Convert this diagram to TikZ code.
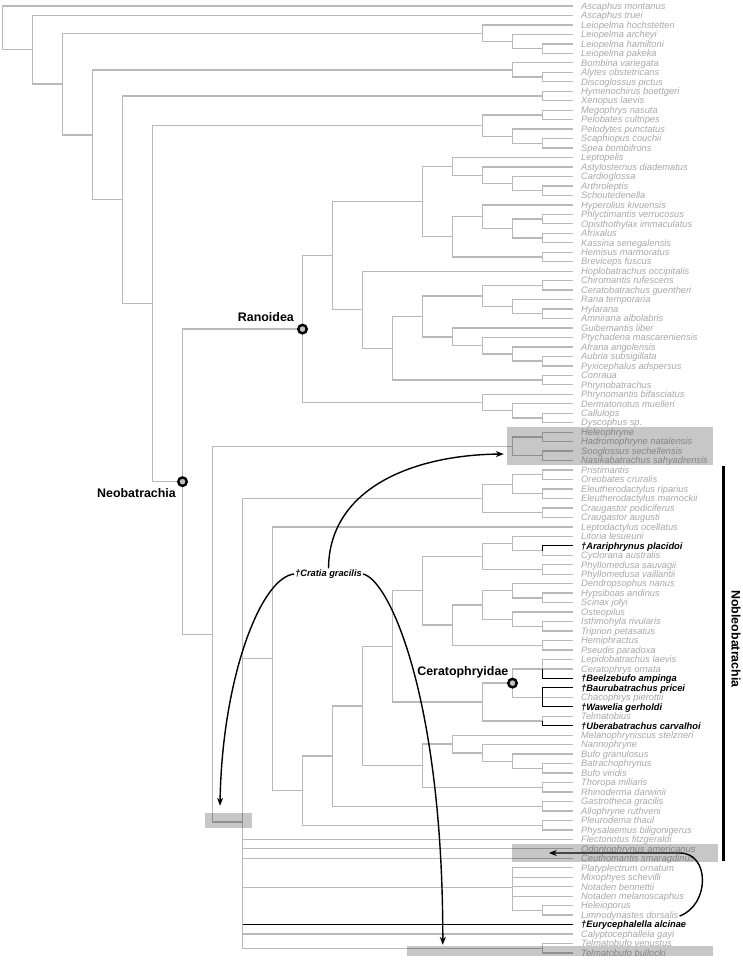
\documentclass[tikz,border=0pt]{standalone}
\usepackage{fontspec}
\setmainfont{Liberation Sans}
\usetikzlibrary{calc,arrows.meta}
\definecolor{treegray}{RGB}{185,185,185}
\definecolor{labgray}{RGB}{168,168,168}
\newcommand\bnode[4]{\path let \p1=($(#3)!.5!(#4)$) in coordinate (#1) at (#2pt,\y1);}
\newcommand\kids[2]{\foreach \k in {#2}{\draw[treeline] (#1) |- (\k);}}
\newcommand\fos[1]{{\color{black}\bfseries †#1}}
\begin{document}
\begin{tikzpicture}[x=1pt,y=-1pt,
 treeline/.style={draw=treegray,line width=1.3pt},
 fossil/.style={draw=black,line width=1.3pt},
 lbl/.style={anchor=base west,inner sep=0pt,text=labgray,font=\fontsize{9.3}{11}\selectfont\itshape},
 clade/.style={inner sep=0pt,font=\fontsize{12.4}{14}\selectfont\bfseries},
 marker/.style={circle,draw=black,line width=2.4pt,fill=gray!50,minimum size=8.5pt,inner sep=0pt},
 sbox/.style={fill=black,fill opacity=0.22,inner sep=0pt,draw=none},
 arr/.style={-{Stealth[length=8pt,width=6pt]},line width=1.4pt,draw=black}]
\useasboundingbox (0,0) rectangle (742,960);
% tips and labels
\foreach \name [count=\i] in {Ascaphus montanus, Ascaphus truei, Leiopelma hochstetteri, Leiopelma archeyi, Leiopelma hamiltoni, Leiopelma pakeka, Bombina variegata, Alytes obstetricans, Discoglossus pictus, Hymenochirus boettgeri, Xenopus laevis, Megophrys nasuta, Pelobates cultripes, Pelodytes punctatus, Scaphiopus couchii, Spea bombifrons, Leptopelis, Astylosternus diadematus, Cardioglossa, Arthroleptis, Schoutedenella, Hyperolius kivuensis, Phlyctimantis verrucosus, Opisthothylax immaculatus, Afrixalus, Kassina senegalensis, Hemisus marmoratus, Breviceps fuscus, Hoplobatrachus occipitalis, Chiromantis rufescens, Ceratobatrachus guentheri, Rana temporaria, Hylarana, Amnirana albolabris, Guibemantis liber, Ptychadena mascareniensis, Afrana angolensis, Aubria subsigillata, Pyxicephalus adspersus, Conraua, Phrynobatrachus, Phrynomantis bifasciatus, Dermatonotus muelleri, Callulops, Dyscophus sp., Heleophryne, Hadromophryne natalensis, Sooglossus sechellensis, Nasikabatrachus sahyadrensis, Pristimantis, Oreobates cruralis, Eleutherodactylus riparius, Eleutherodactylus marnockii, Craugastor podiciferus, Craugastor augusti, Leptodactylus ocellatus, Litoria lesueurii, \fos{Arariphrynus placidoi}, Cyclorana australis, Phyllomedusa sauvagii, Phyllomedusa vaillantii, Dendropsophus nanus, Hypsiboas andinus, Scinax jolyi, Osteopilus, Isthmohyla rivularis, Triprion petasatus, Hemiphractus, Pseudis paradoxa, Lepidobatrachus laevis, Ceratophrys ornata, \fos{Beelzebufo ampinga}, \fos{Baurubatrachus pricei}, Chacophrys pierottii, \fos{Wawelia gerholdi}, Telmatobius, \fos{Uberabatrachus carvalhoi}, Melanophryniscus stelzneri, Nannophryne, Bufo granulosus, Batrachophrynus, Bufo viridis, Thoropa miliaris, Rhinoderma darwinii, Gastrotheca gracilis, Allophryne ruthveni, Pleurodema thaul, Physalaemus biligonigerus, Flectonotus fitzgeraldi, Odontophrynus americanus, Ceuthomantis smaragdinus, Platyplectrum ornatum, Mixophyes schevilli, Notaden bennettii, Notaden melanoscaphus, Heleioporus, Limnodynastes dorsalis, \fos{Eurycephalella alcinae}, Calyptocephallela gayi, Telmatobufo venustus, Telmatobufo bullocki}{
  \coordinate (c\i) at (572.5,{6+(\i-1)*9.47});
  \node[lbl] (t\i) at (581,{9.3+(\i-1)*9.47}) {\name};
}
% internal nodes
\bnode{L3}{542.5}{c5}{c6} \bnode{L2}{512.5}{c4}{L3} \bnode{L1}{482.5}{c3}{L2}
\bnode{B2}{542.5}{c8}{c9} \bnode{B1}{512.5}{c7}{B2}
\bnode{Pi}{542.5}{c10}{c11}
\bnode{Pb1}{542.5}{c12}{c13} \bnode{Pb3}{542.5}{c15}{c16} \bnode{Pb2}{512.5}{c14}{Pb3} \bnode{Pb0}{482.5}{Pb1}{Pb2}
\bnode{Ar4}{542.5}{c20}{c21} \bnode{Ar3}{512.5}{c19}{Ar4} \bnode{Ar2}{482.5}{c18}{Ar3} \bnode{Ar1}{452.5}{c17}{Ar2}
\bnode{Hy3}{542.5}{c23}{c24} \bnode{Hy4}{542.5}{c25}{c26} \bnode{Hy2}{512.5}{Hy3}{Hy4} \bnode{Hy1}{482.5}{c22}{Hy2}
\bnode{Hb}{542.5}{c27}{c28} \bnode{A2}{452.5}{Hy1}{Hb} \bnode{A0}{422.5}{Ar1}{A2}
\bnode{N5}{542.5}{c30}{c31} \bnode{N7}{542.5}{c33}{c34} \bnode{N6}{512.5}{c32}{N7} \bnode{N3}{482.5}{N5}{N6}
\bnode{N10}{542.5}{c38}{c39} \bnode{N9}{512.5}{c37}{N10} \bnode{N8}{482.5}{c36}{N9} \bnode{N4}{452.5}{c35}{N8}
\bnode{N2}{422.5}{N3}{N4} \bnode{N11}{542.5}{c40}{c41} \bnode{N1}{392.5}{N2}{N11} \bnode{N0}{362.5}{c29}{N1}
\bnode{R1}{332.5}{A0}{N0}
\bnode{M2}{542.5}{c44}{c45} \bnode{M1}{512.5}{c43}{M2} \bnode{M0}{482.5}{c42}{M1}
\bnode{Ran}{302.5}{R1}{M0}
\bnode{H1}{542.5}{c46}{c47} \bnode{H2}{542.5}{c48}{c49} \bnode{H0}{512.5}{H1}{H2}
\bnode{T3}{542.5}{c50}{c51} \bnode{T4}{542.5}{c52}{c53} \bnode{T2}{512.5}{T3}{T4} \bnode{T5}{542.5}{c54}{c55} \bnode{T0}{482.5}{T2}{T5}
\bnode{Y3}{542.5}{c58}{c59} \bnode{Y2}{512.5}{c57}{Y3} \bnode{Y4}{542.5}{c60}{c61} \bnode{Y1}{482.5}{Y2}{Y4}
\bnode{Y7}{542.5}{c63}{c64} \bnode{Y6}{512.5}{c62}{Y7} \bnode{Y9}{542.5}{c66}{c67} \bnode{Y8}{512.5}{c65}{Y9}
\bnode{Y5}{482.5}{Y6}{Y8} \bnode{Y10}{542.5}{c68}{c69} \bnode{Y11}{452.5}{Y5}{Y10} \bnode{Y0}{422.5}{Y1}{Y11}
\bnode{C1}{542.5}{c70}{c72} \bnode{C2}{542.5}{c73}{c75} \bnode{C0}{512.5}{C1}{C2} \bnode{C3}{542.5}{c76}{c77} \bnode{Cc}{482.5}{C0}{C3}
\bnode{D13}{392.5}{Y0}{Cc}
\bnode{Bu4}{542.5}{c81}{c82} \bnode{Bu3}{512.5}{c80}{Bu4} \bnode{Bu2}{482.5}{c79}{Bu3} \bnode{Bu1}{452.5}{c78}{Bu2}
\bnode{Tr}{542.5}{c83}{c84} \bnode{Bu0}{422.5}{Bu1}{Tr}
\bnode{D12}{362.5}{D13}{Bu0} \bnode{Ga}{542.5}{c85}{c86} \bnode{D11}{332.5}{D12}{Ga}
\bnode{Pl}{542.5}{c87}{c88} \bnode{D10}{302.5}{D11}{Pl} \bnode{D9}{272.5}{c56}{D10}
\bnode{My1}{542.5}{c96}{c97}
\path let \p1=($0.2*(c92)+0.2*(c93)+0.2*(c94)+0.2*(c95)+0.2*(My1)$) in coordinate (My0) at (512.5pt,\y1);
\bnode{Te}{542.5}{c100}{c101}
\path let \p1=($0.111111*(T0)+0.111111*(D9)+0.111111*(c89)+0.111111*(c90)+0.111111*(c91)+0.111111*(My0)+0.111111*(c98)+0.111111*(c99)+0.111111*(Te)$) in coordinate (P) at (242.5pt,\y1);
\bnode{D7}{212.5}{H0}{P} \bnode{Neo}{182.5}{Ran}{D7}
\bnode{D5}{152.5}{Pb0}{Neo} \bnode{D4}{122.5}{Pi}{D5} \bnode{D3}{92.5}{B1}{D4}
\bnode{D2}{62.5}{L1}{D3} \bnode{D1}{32.5}{c2}{D2} \bnode{R0}{2.5}{c1}{D1}
% edges
\kids{R0}{c1,D1} \kids{D1}{c2,D2} \kids{D2}{L1,D3}
\kids{L1}{c3,L2} \kids{L2}{c4,L3} \kids{L3}{c5,c6}
\kids{D3}{B1,D4} \kids{B1}{c7,B2} \kids{B2}{c8,c9}
\kids{D4}{Pi,D5} \kids{Pi}{c10,c11}
\kids{D5}{Pb0,Neo}
\kids{Pb0}{Pb1,Pb2} \kids{Pb1}{c12,c13} \kids{Pb2}{c14,Pb3} \kids{Pb3}{c15,c16}
\kids{Neo}{Ran,D7} \kids{Ran}{R1,M0} \kids{R1}{A0,N0} \kids{A0}{Ar1,A2}
\kids{Ar1}{c17,Ar2} \kids{Ar2}{c18,Ar3} \kids{Ar3}{c19,Ar4} \kids{Ar4}{c20,c21}
\kids{A2}{Hy1,Hb} \kids{Hy1}{c22,Hy2} \kids{Hy2}{Hy3,Hy4} \kids{Hy3}{c23,c24} \kids{Hy4}{c25,c26} \kids{Hb}{c27,c28}
\kids{N0}{c29,N1} \kids{N1}{N2,N11} \kids{N11}{c40,c41}
\kids{N2}{N3,N4} \kids{N3}{N5,N6} \kids{N5}{c30,c31} \kids{N6}{c32,N7} \kids{N7}{c33,c34}
\kids{N4}{c35,N8} \kids{N8}{c36,N9} \kids{N9}{c37,N10} \kids{N10}{c38,c39}
\kids{M0}{c42,M1} \kids{M1}{c43,M2} \kids{M2}{c44,c45}
\kids{D7}{H0,P} \kids{H0}{H1,H2} \kids{H1}{c46,c47} \kids{H2}{c48,c49}
\kids{P}{T0,D9,c89,c90,c91,My0,c98,c99,Te}
\kids{T0}{T2,T5} \kids{T2}{T3,T4} \kids{T3}{c50,c51} \kids{T4}{c52,c53} \kids{T5}{c54,c55}
\kids{D9}{c56,D10} \kids{D10}{D11,Pl} \kids{Pl}{c87,c88}
\kids{D11}{D12,Ga} \kids{Ga}{c85,c86} \kids{D12}{D13,Bu0} \kids{D13}{Y0,Cc}
\kids{Y0}{Y1,Y11} \kids{Y1}{Y2,Y4} \kids{Y2}{c57,Y3} \kids{Y3}{c58,c59} \kids{Y4}{c60,c61}
\kids{Y11}{Y5,Y10} \kids{Y5}{Y6,Y8} \kids{Y6}{c62,Y7} \kids{Y7}{c63,c64} \kids{Y8}{c65,Y9} \kids{Y9}{c66,c67} \kids{Y10}{c68,c69}
\kids{Cc}{C0,C3} \kids{C0}{C1,C2} \kids{C1}{c70,c71,c72} \kids{C2}{c73,c74,c75} \kids{C3}{c76,c77}
\kids{Bu0}{Bu1,Tr} \kids{Bu1}{c78,Bu2} \kids{Bu2}{c79,Bu3} \kids{Bu3}{c80,Bu4} \kids{Bu4}{c81,c82} \kids{Tr}{c83,c84}
\kids{My0}{c92,c93,c94,c95,My1} \kids{My1}{c96,c97} \kids{Te}{c100,c101}
% fossil branches
\draw[fossil] (Y3) |- (c58);
\draw[fossil] (C1) |- (c72);
\draw[fossil] (C2) |- (c73); \draw[fossil] (C2) |- (c75);
\draw[fossil] (C3) |- (c77);
\draw[fossil] (P |- c98) -- (c98);
% clade markers and names
\node[marker] (mRan) at (Ran) {};
\node[marker] (mNeo) at (Neo) {};
\node[marker] (mCer) at (C0) {};
\node[clade,anchor=base east] (lRan) at (294,321.5) {Ranoidea};
\node[clade,anchor=base east] (lNeo) at (176,497) {Neobatrachia};
\node[clade,anchor=base east] (lCer) at (508.5,675.5) {Ceratophryidae};
% shaded boxes
\node[sbox,minimum width=206pt,minimum height=38pt] (bHS) at (610,446) {};
\node[sbox,minimum width=47pt,minimum height=15pt] (bRoot) at (228.5,820.5) {};
\node[sbox,minimum width=206pt,minimum height=18pt] (bOC) at (615,853) {};
\node[sbox,minimum width=306pt,minimum height=10pt] (bTB) at (560,951) {};
% Nobleobatrachia bar
\draw[line width=3pt] (723,466) -- (723,861);
\node[clade,rotate=-90] (lNob) at (736,639) {Nobleobatrachia};
% Cratia and arrows
\node[inner sep=1pt,font=\fontsize{9.3}{11}\selectfont\bfseries\itshape] (cratia) at (328.5,574) {†Cratia gracilis};
\coordinate (aHS) at ([xshift=-3pt,yshift=-8pt]bHS.west);
\coordinate (aRoot) at ([xshift=-8.5pt,yshift=7pt]bRoot.north);
\coordinate (aTB) at ([xshift=36pt,yshift=1pt]bTB.north west);
\coordinate (aOC) at ([xshift=37pt]bOC.west);
\draw[arr] (cratia.north) .. controls (329,490) and (410,455) .. (aHS);
\draw[arr] (cratia.west) .. controls (260,578) and (222,680) .. (aRoot);
\draw[arr] (cratia.east) .. controls (390,580) and (443,700) .. (aTB);
\draw[arr] ([xshift=1pt]t97.east) .. controls (710,905) and (710,853) .. (680,853) -- (aOC);
\end{tikzpicture}
\end{document}
